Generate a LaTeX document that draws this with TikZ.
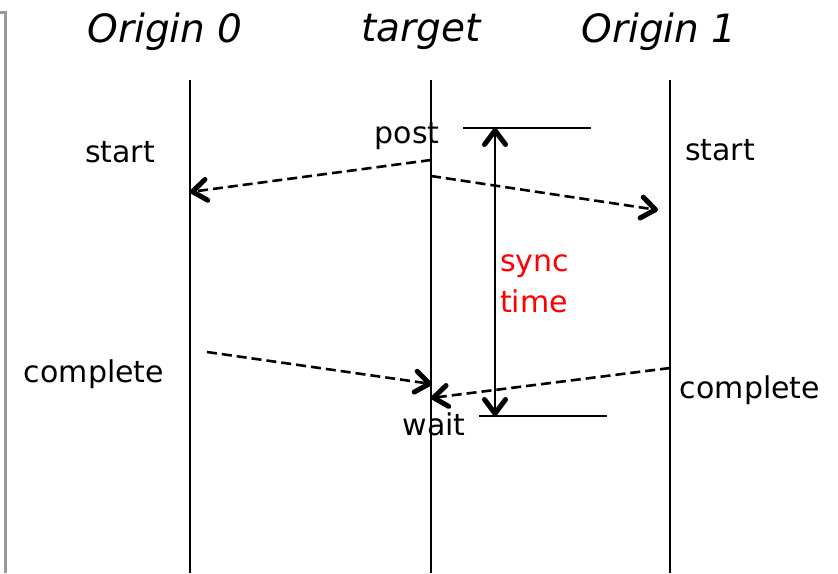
\documentclass[tikz,border=0pt]{standalone}
\usepackage{fontspec}
\setmainfont{DejaVu Sans}
\usetikzlibrary{arrows.meta}

\tikzset{
  head/.style={font=\fontsize{39}{44}\selectfont\itshape, inner sep=0pt},
  lbl/.style={font=\fontsize{30}{41}\selectfont, inner sep=0pt},
  life/.style={line width=2pt},
  bar/.style={line width=2.5pt},
  tip/.tip={Straight Barb[length=14pt,width=21pt,line width=5pt,round]},
  msg/.style={line width=2.6pt, dash pattern=on 10pt off 5pt, -tip},
  span/.style={line width=2.8pt, tip-tip}
}

\begin{document}
\begin{tikzpicture}[x=1pt,y=-1pt]
\useasboundingbox (0,0) rectangle (838,573);
%frame edge
\draw[gray!80, line width=3pt] (0,12) -- (5,12) -- (5,573);

%processes
\node[head] (h0) at (165,32) {Origin 0};
\node[head] (h1) at (421,32) {target};
\node[head] (h2) at (659,32) {Origin 1};
\foreach \n/\x in {o0/190,tg/431,o1/670}{
  \coordinate (\n top) at (\x,80);
  \coordinate (\n bot) at (\x,573);
  \draw[life] (\n top) -- (\n bot);
}

%labels
\node[lbl] (st0) at (120,152) {start};
\node[lbl] (st1) at (720,150) {start};
\node[lbl] (post) at (407,136) {post};
\node[lbl] (wait) at (434,424) {wait};
\node[lbl] (cp0) at (94,374) {complete};
\node[lbl] (cp1) at (750,390) {complete};
\node[lbl, red, align=left, anchor=west] (sync) at (500,284) {sync\\time};

%post and wait
\coordinate (pbl) at (463,128);
\coordinate (pbr) at (591,128);
\coordinate (wbl) at (479,416);
\coordinate (wbr) at (607,416);
\coordinate (stop) at (495,128);
\coordinate (sbot) at (495,416);
\draw[bar] (pbl) -- (pbr);
\draw[bar] (wbl) -- (wbr);
\draw[span] (stop) -- (sbot);

%messages
\coordinate (p0) at (431,160);
\coordinate (p1) at (431,176);
\coordinate (s0) at (190,192);
\coordinate (s1) at (658,210);
\coordinate (c0) at (207,352);
\coordinate (c1) at (670,368);
\coordinate (w0) at (432,384);
\coordinate (w1) at (431,398);
\draw[msg] (p0) -- (s0);
\draw[msg] (p1) -- (s1);
\draw[msg] (c0) -- (w0);
\draw[msg] (c1) -- (w1);
\end{tikzpicture}
\end{document}
